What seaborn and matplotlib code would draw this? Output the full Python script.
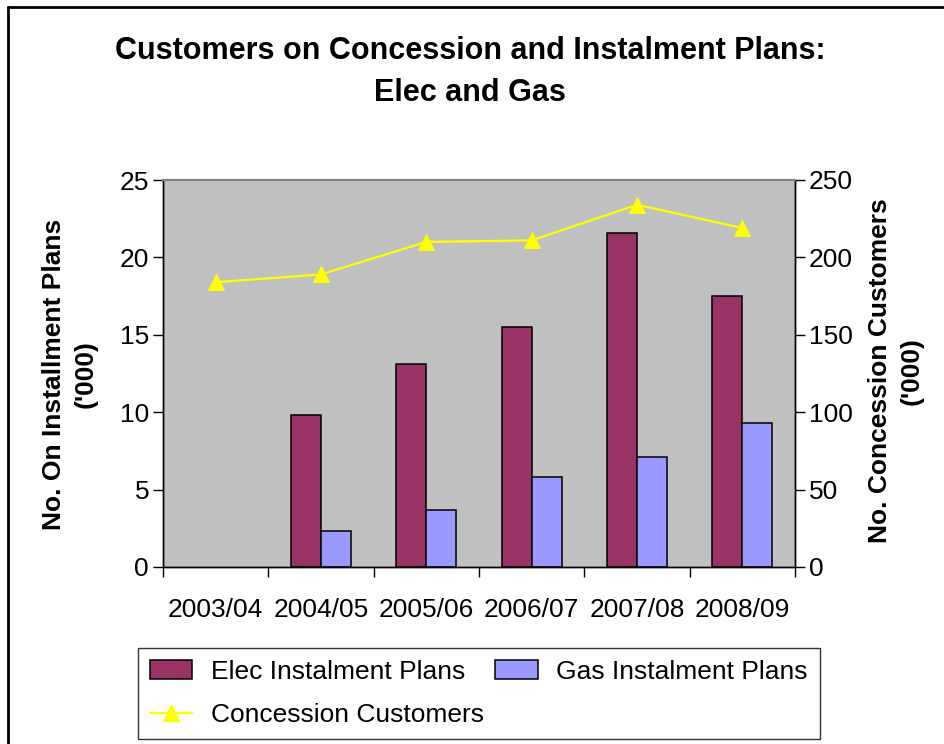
import numpy as np
import pandas as pd
import matplotlib
matplotlib.use("Agg")
import matplotlib.pyplot as plt
import seaborn as sns
from matplotlib.lines import Line2D
from matplotlib.patches import Patch
from matplotlib.ticker import FixedLocator, NullFormatter

# ---- data ----
years = ["2003/04", "2004/05", "2005/06", "2006/07", "2007/08", "2008/09"]
elec_plans = [np.nan, 9.8, 13.1, 15.5, 21.6, 17.5]
gas_plans = [np.nan, 2.3, 3.7, 5.8, 7.1, 9.3]
concession = [184, 189, 210, 211, 234, 219]
left_ticks = [0, 5, 10, 15, 20, 25]
right_ticks = [0, 50, 100, 150, 200, 250]

series_names = ["Elec Instalment Plans", "Gas Instalment Plans"]
line_name = "Concession Customers"
colors = {"Elec Instalment Plans": "#993366", "Gas Instalment Plans": "#9999FF"}

df = pd.DataFrame({
    "year": years * 2,
    "series": [series_names[0]] * len(years) + [series_names[1]] * len(years),
    "value": elec_plans + gas_plans,
})
df_line = pd.DataFrame({"year": years, "value": concession})

sns.set_theme(style="white")
plt.rcParams["font.family"] = ["Liberation Sans", "DejaVu Sans"]
plt.rcParams["text.color"] = "black"
plt.rcParams["xtick.color"] = "black"
plt.rcParams["ytick.color"] = "black"
plt.rcParams["xtick.labelcolor"] = "black"
plt.rcParams["ytick.labelcolor"] = "black"
FS = 19

fig = plt.figure(figsize=(9.45, 7.44), dpi=100)
W, H = 945, 744
ax = fig.add_axes([163 / W, 1 - 567 / H, (795 - 163) / W, (567 - 180) / H])
ax.set_facecolor("#C0C0C0")

sns.barplot(data=df, x="year", y="value", hue="series", order=years,
            hue_order=series_names, palette=colors, width=0.572,
            edgecolor="black", linewidth=1.1, saturation=1, ax=ax,
            legend=False, errorbar=None)

ax.set_ylim(0, 25)
ax.set_xlim(-0.5, len(years) - 0.5)
ax.set_yticks(left_ticks)
ax.set_xlabel("")
ax.set_ylabel("")

ax2 = ax.twinx()
sns.lineplot(data=df_line, x="year", y="value", color="#FFFF00", linewidth=1.6,
             marker="^", markersize=11, markeredgecolor="#FFFF00", ax=ax2,
             sort=False)
ax2.set_ylim(0, 250)
ax2.set_yticks(right_ticks)
ax2.set_xlim(-0.5, len(years) - 0.5)
ax2.set_ylabel("")
ax2.set_xlabel("")

# x ticks: labels at centres, tick marks at boundaries
ax.set_xticks(range(len(years)))
ax.set_xticklabels(years, fontsize=FS, color="black")
ax.xaxis.set_minor_locator(FixedLocator(np.arange(-0.5, len(years), 1.0)))
ax.xaxis.set_minor_formatter(NullFormatter())
ax.tick_params(axis="x", which="major", length=0, pad=22)
ax.tick_params(axis="x", which="minor", length=7, width=1, color="black",
               direction="out", bottom=True)
ax.tick_params(axis="y", which="major", length=7, width=1, color="black",
               direction="out", left=True, labelsize=FS, pad=3,
               labelcolor="black")
ax2.tick_params(axis="y", which="major", length=7, width=1, color="black",
                direction="out", right=True, labelsize=FS, pad=3,
                labelcolor="black")

for a in (ax, ax2):
    for s in ["left", "bottom", "right"]:
        a.spines[s].set_color("black")
        a.spines[s].set_linewidth(1.0)
    a.spines["top"].set_color("#808080")
    a.spines["top"].set_linewidth(1.5)

# title
fig.text(470 / W, 1 - 72 / H,
         "Customers on Concession and Instalment Plans:\nElec and Gas",
         ha="center", va="center", fontsize=22, fontweight="bold",
         linespacing=1.5, color="black")

# axis labels
fig.text(70 / W, 1 - 374 / H, "No. On Installment Plans\n('000)",
         rotation=90, ha="center", va="center", fontsize=FS,
         fontweight="bold", linespacing=1.4, multialignment="center",
         color="black")
fig.text(896 / W, 1 - 371 / H, "No. Concession Customers\n('000)",
         rotation=90, ha="center", va="center", fontsize=FS,
         fontweight="bold", linespacing=1.4, multialignment="center",
         color="black")

# legend
handles = [
    Patch(facecolor=colors[series_names[0]], edgecolor="black", linewidth=1.1),
    Line2D([], [], color="#FFFF00", linewidth=1.6, marker="^", markersize=11),
    Patch(facecolor=colors[series_names[1]], edgecolor="black", linewidth=1.1),
]
labels = [series_names[0], line_name, series_names[1]]
leg = fig.legend(handles, labels, ncol=2, loc="upper left",
                 bbox_to_anchor=(138 / W, 1 - 648 / H), fontsize=FS,
                 frameon=True, fancybox=False, shadow=False,
                 handlelength=1.6, handleheight=0.7, handletextpad=0.7,
                 columnspacing=0.45, labelspacing=0.72, borderpad=0.45,
                 borderaxespad=0)
leg.get_frame().set_edgecolor("black")
leg.get_frame().set_linewidth(1.0)
for t in leg.get_texts():
    t.set_color("black")

# figure border (top and left)
fig.add_artist(Line2D([8 / W, 8 / W], [0, 1 - 7 / H], transform=fig.transFigure,
                      color="black", linewidth=2))
fig.add_artist(Line2D([8 / W, 1], [1 - 7 / H, 1 - 7 / H], transform=fig.transFigure,
                      color="black", linewidth=2))

fig.savefig("out.png", dpi=100, facecolor="white")
